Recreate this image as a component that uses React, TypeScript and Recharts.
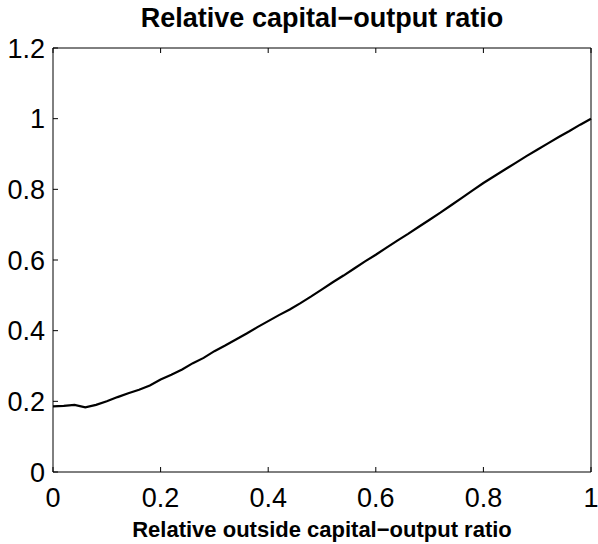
import { LineChart, Line, XAxis, YAxis } from 'recharts'

const xValues = [
  0, 0.02, 0.04, 0.06, 0.08, 0.1, 0.12, 0.14, 0.16, 0.18,
  0.2, 0.22, 0.24, 0.26, 0.28, 0.3, 0.32, 0.34, 0.36, 0.38,
  0.4, 0.42, 0.44, 0.46, 0.48, 0.5, 0.52, 0.54, 0.56, 0.58,
  0.6, 0.62, 0.64, 0.66, 0.68, 0.7, 0.72, 0.74, 0.76, 0.78,
  0.8, 0.82, 0.84, 0.86, 0.88, 0.9, 0.92, 0.94, 0.96, 0.98, 1,
]

const ratioValues = [
  0.186, 0.187, 0.19, 0.183, 0.19, 0.2, 0.212, 0.223, 0.233, 0.245,
  0.262, 0.275, 0.29, 0.308, 0.323, 0.342, 0.358, 0.375, 0.392, 0.41,
  0.427, 0.444, 0.46, 0.478, 0.497, 0.517, 0.537, 0.556, 0.576, 0.596,
  0.615, 0.635, 0.655, 0.674, 0.694, 0.714, 0.734, 0.755, 0.776, 0.797,
  0.818, 0.837, 0.856, 0.875, 0.894, 0.912, 0.93, 0.948, 0.965, 0.983, 1,
]

const xTicks = [0, 0.2, 0.4, 0.6, 0.8, 1]
const yTicks = [0, 0.2, 0.4, 0.6, 0.8, 1, 1.2]

const data = xValues.map((x, i) => ({ x, y: ratioValues[i] }))

const FONT = '"Liberation Sans", Arial, Helvetica, sans-serif'
const tickStyle = { fill: '#000', fontSize: 27, fontFamily: FONT }
const noTick = () => <g />

export default function App() {
  return (
    <div style={{ position: 'absolute', left: 0, top: 0, width: 598, height: 544, background: '#fff' }}>
      <svg width={598} height={40} style={{ position: 'absolute', left: 0, top: 0 }}>
        <text x={322} y={27} textAnchor="middle" fontFamily={FONT} fontSize={27} fontWeight="bold" fill="#000">
          Relative capital−output ratio
        </text>
      </svg>
      <LineChart width={598} height={544} data={data} margin={{ top: 47, right: 6, bottom: 0, left: 0 }}>
        <XAxis
          xAxisId="b"
          dataKey="x"
          type="number"
          domain={[0, 1]}
          ticks={xTicks}
          interval={0}
          height={72}
          stroke="#000"
          tickSize={-5}
          tickMargin={21}
          tick={tickStyle}
          label={{
            value: 'Relative outside capital−output ratio',
            position: 'insideBottom',
            offset: 7,
            style: { fill: '#000', fontSize: 22, fontWeight: 'bold', fontFamily: FONT },
          }}
        />
        <XAxis
          xAxisId="t"
          orientation="top"
          dataKey="x"
          type="number"
          domain={[0, 1]}
          ticks={xTicks}
          interval={0}
          height={1}
          stroke="#000"
          tickSize={-5}
          tick={noTick}
        />
        <YAxis
          yAxisId="l"
          type="number"
          domain={[0, 1.2]}
          ticks={yTicks}
          interval={0}
          width={53}
          stroke="#000"
          tickSize={-5}
          tickMargin={13}
          tick={tickStyle}
        />
        <YAxis
          yAxisId="r"
          orientation="right"
          type="number"
          domain={[0, 1.2]}
          ticks={yTicks}
          interval={0}
          width={1}
          stroke="#000"
          tickSize={-5}
          tick={noTick}
        />
        <Line
          xAxisId="b"
          yAxisId="l"
          dataKey="y"
          type="linear"
          stroke="#000"
          strokeWidth={2.2}
          dot={false}
          isAnimationActive={false}
        />
      </LineChart>
    </div>
  )
}
